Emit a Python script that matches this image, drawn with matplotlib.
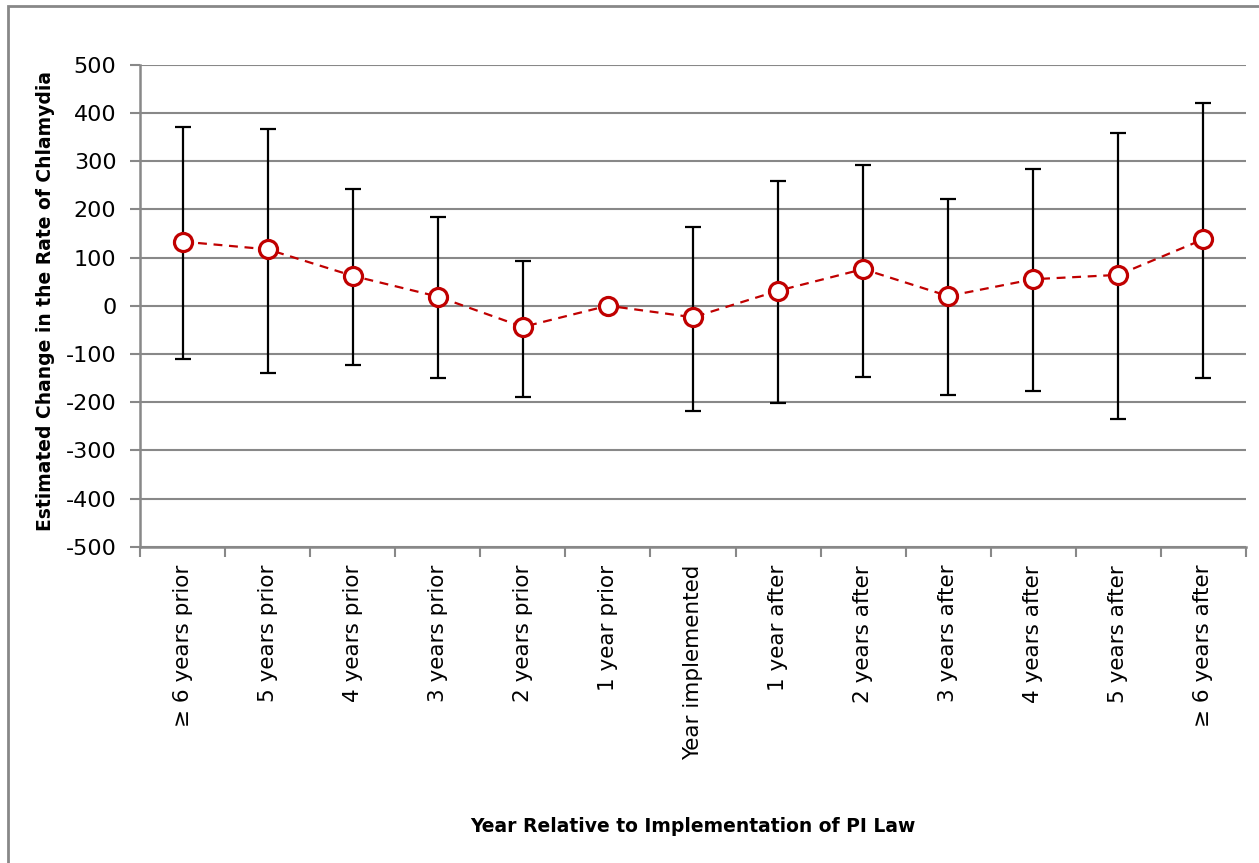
import numpy as np
import matplotlib.pyplot as plt
from matplotlib.patches import Rectangle

# estimated change and 95% interval bounds per year relative to the PI law
years = ["≥ 6 years prior", "5 years prior", "4 years prior", "3 years prior",
         "2 years prior", "1 year prior", "Year implemented", "1 year after",
         "2 years after", "3 years after", "4 years after", "5 years after",
         "≥ 6 years after"]
estimate = [133, 117, 62, 19, -44, 0, -24, 31, 76, 20, 55, 64, 138]
upper = [371, 367, 243, 185, 93, 0, 164, 259, 292, 222, 284, 359, 420]
lower = [-110, -139, -122, -151, -189, 0, -218, -201, -147, -185, -176, -234, -151]

plt.rcParams['font.family'] = ['DejaVu Sans']
plt.rcParams['axes.unicode_minus'] = False

fig = plt.figure(figsize=(12.59, 8.63), dpi=100)
ax = fig.add_axes([0.1112, 0.3665, 0.8785, 0.5585])

x = np.arange(len(years))
est = np.array(estimate)
err = np.array([est - np.array(lower), np.array(upper) - est])
has_err = err.sum(axis=0) > 0

ax.errorbar(x[has_err], est[has_err], yerr=err[:, has_err], fmt='none',
            ecolor='black', elinewidth=1.6, capsize=6, capthick=1.6, zorder=3)
ax.plot(x, est, linestyle=(0, (4, 3)), color='#C00000', linewidth=1.6,
        marker='o', markersize=13, markerfacecolor='white',
        markeredgecolor='#C00000', markeredgewidth=2.3, zorder=4)

gray = '#888888'
ax.set_xlim(-0.5, len(years) - 0.5)
ax.set_ylim(-500, 500)
ax.set_yticks(np.arange(-500, 501, 100))
ax.yaxis.grid(True, color=gray, linewidth=1.5)
ax.set_axisbelow(True)

ax.set_xticks(x)
ax.set_xticklabels(years, rotation=90, fontsize=15.5)
ax.set_xticks(np.arange(-0.5, len(years), 1), minor=True)
ax.tick_params(axis='x', which='major', length=0, pad=13)
ax.tick_params(axis='x', which='minor', length=7, width=1.5, color=gray)
ax.tick_params(axis='y', length=7, width=1.5, color=gray, labelsize=16, pad=10)

for side in ['top', 'right']:
    ax.spines[side].set_visible(False)
for side in ['left', 'bottom']:
    ax.spines[side].set_color(gray)
    ax.spines[side].set_linewidth(1.8)

ax.set_xlabel("Year Relative to Implementation of PI Law", fontsize=13.5,
              fontweight='bold', va='top')
ax.xaxis.set_label_coords(0.5, -0.56)
ax.set_ylabel("Estimated Change in the Rate of Chlamydia", fontsize=13.5,
              fontweight='bold', va='center')
ax.yaxis.set_label_coords(-0.085, 0.51)

# outer frame of the chart area
fig.patches.append(Rectangle((8 / 1259, -0.2), 1.2, 1.2 - 6 / 863,
                             transform=fig.transFigure, fill=False,
                             edgecolor=gray, linewidth=2))

fig.savefig("out.png", dpi=100)
